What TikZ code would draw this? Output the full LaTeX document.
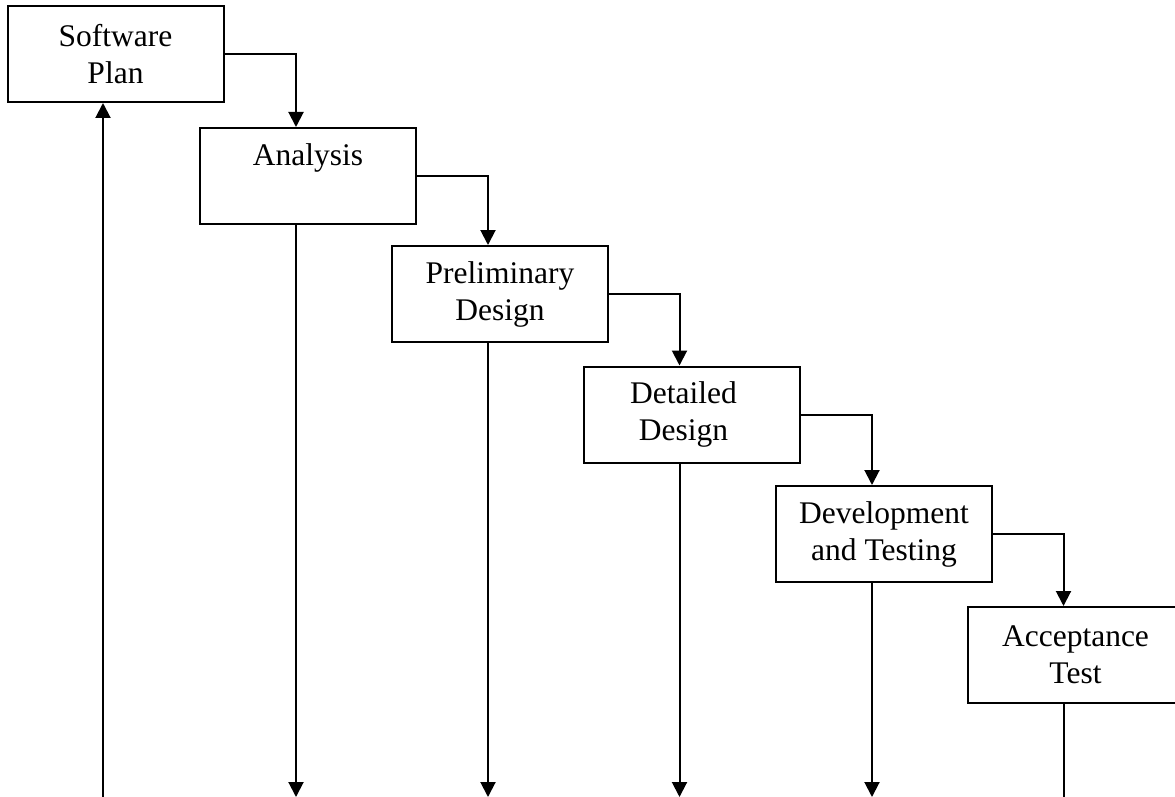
\documentclass[tikz,border=0pt]{standalone}
\usepackage{fontspec}
\setmainfont{Liberation Serif}
\usetikzlibrary{arrows.meta}
\begin{document}
\begin{tikzpicture}[x=1pt,y=-1pt,
  stagebox/.style={draw, line width=2pt, minimum width=216pt, minimum height=96pt,
    inner sep=0pt, align=center, font=\fontsize{31.5}{37}\selectfont},
  conn/.style={line width=2pt},
  arr/.style={conn, -{Triangle[width=15pt,length=15pt]}}]
\useasboundingbox (0,0) rectangle (1175,797);
\node[stagebox] (sp) at (115.5,54) {Software\\Plan};
\node[stagebox] (an) at (308,176) {Analysis\\\phantom{Ag}};
\node[stagebox] (pd) at (500,294) {Preliminary\\Design};
\node[stagebox] (dd) at (691.5,414.5) {Detailed\hspace*{16pt}\\Design\hspace*{16pt}};
\node[stagebox] (dt) at (884,534) {Development\\and Testing};
\node[stagebox] (at) at (1075.5,655) {Acceptance\\Test};
% entry points
\coordinate (anin) at ([xshift=-12pt]an.north);
\coordinate (pdin) at ([xshift=-12pt]pd.north);
\coordinate (ddin) at ([xshift=-12pt]dd.north);
\coordinate (dtin) at ([xshift=-12pt]dt.north);
\coordinate (atin) at ([xshift=-12pt]at.north);
\coordinate (spout) at ([xshift=-12.5pt]sp.south);
\coordinate (anout) at ([xshift=-12pt]an.south);
\coordinate (pdout) at ([xshift=-12pt]pd.south);
\coordinate (ddout) at ([xshift=-12pt]dd.south);
\coordinate (dtout) at ([xshift=-12pt]dt.south);
\coordinate (atout) at ([xshift=-12pt]at.south);
% bottom ends
\coordinate (b0) at (spout |- 0,797);
\coordinate (b1) at (anout |- 0,797);
\coordinate (b2) at (pdout |- 0,797);
\coordinate (b3) at (ddout |- 0,797);
\coordinate (b4) at (dtout |- 0,797);
\coordinate (b5) at (atout |- 0,797);
% cascade
\draw[arr] (sp.east) -| (anin);
\draw[arr] (an.east) -| (pdin);
\draw[arr] (pd.east) -| (ddin);
\draw[arr] (dd.east) -| (dtin);
\draw[arr] (dt.east) -| (atin);
% verticals
\draw[arr] (b0) -- (spout);
\draw[arr] (anout) -- (b1);
\draw[arr] (pdout) -- (b2);
\draw[arr] (ddout) -- (b3);
\draw[arr] (dtout) -- (b4);
\draw[conn] (atout) -- (b5);
\end{tikzpicture}
\end{document}
